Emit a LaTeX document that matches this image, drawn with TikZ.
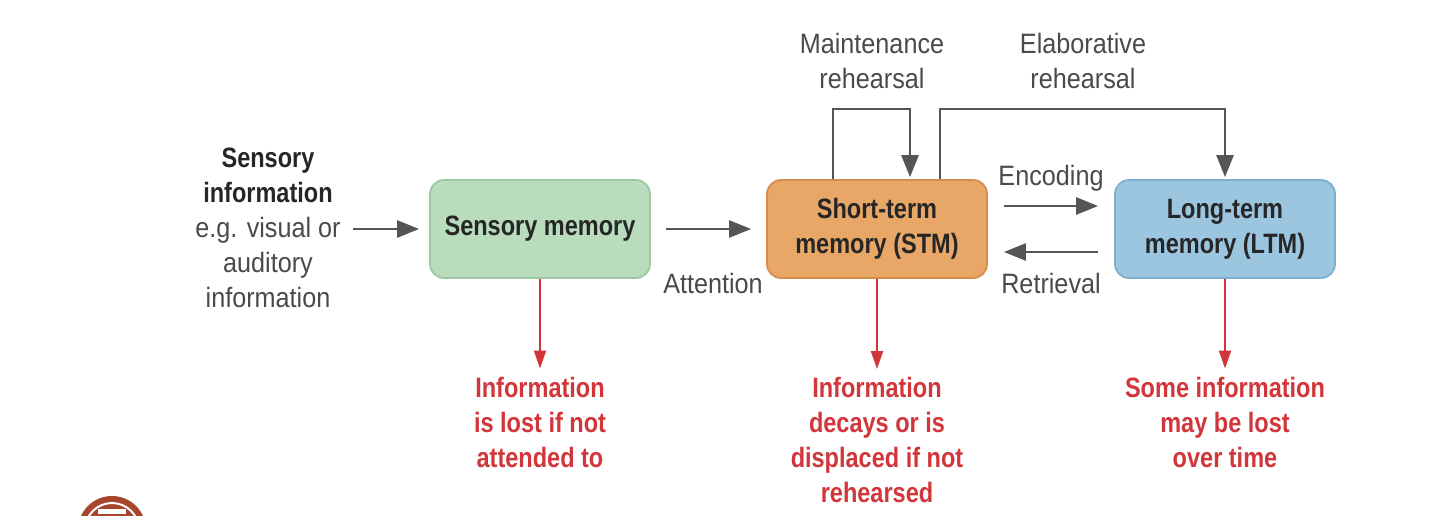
\documentclass[tikz,border=0pt]{standalone}
\usepackage{fontspec}
\setmainfont{Liberation Sans}[FakeStretch=0.9]
\newfontfamily\condf{Liberation Sans}[FakeStretch=0.84]
\usetikzlibrary{arrows.meta}
\definecolor{gfill}{HTML}{B9DCBD}
\definecolor{gdraw}{HTML}{9CC8A3}
\definecolor{ofill}{HTML}{E8A766}
\definecolor{odraw}{HTML}{D68E4C}
\definecolor{bfill}{HTML}{9CC5E0}
\definecolor{bdraw}{HTML}{7FAFD0}
\definecolor{txtgray}{HTML}{4A4A4A}
\definecolor{arrgray}{HTML}{555555}
\definecolor{lossred}{HTML}{D2353A}
\definecolor{logored}{HTML}{A8452D}
\begin{document}
\begin{tikzpicture}[x=1pt,y=-1pt,
  box/.style={rounded corners=14pt, minimum width=220pt, minimum height=98pt, line width=1.8pt,
    align=center, inner sep=0pt, text=black!85, font=\condf\bfseries\fontsize{28}{35}\selectfont},
  lbl/.style={align=center, inner sep=2pt, text=txtgray, font=\fontsize{28}{35}\selectfont},
  loss/.style={align=center, inner sep=2pt, text=lossred, font=\condf\bfseries\fontsize{28}{35}\selectfont},
  arr/.style={draw=arrgray, line width=2.6pt, -{Triangle[length=22pt,width=17pt]}},
  rarr/.style={draw=lossred, line width=2pt, -{Triangle[length=18pt,width=12pt]}}]
\useasboundingbox (0,0) rectangle (1440,515);
\fill[white] (0,0) rectangle (1440,515);
% logo (partially visible)
\begin{scope}
\clip (0,0) rectangle (1440,515);
\fill[logored] (112,530) circle (34);
\draw[white, line width=2pt] (112,530) circle (27);
\fill[white] (98,509) rectangle (126,514);
\end{scope}
% input
\node[lbl] (sinfo) at (268,228) {{\condf\bfseries\color{black!85}Sensory}\\{\condf\bfseries\color{black!85}information}\\e.g. visual or\\auditory\\information};
% boxes
\node[box, fill=gfill, draw=gdraw] (sm) at (540,229) {Sensory memory};
\node[box, fill=ofill, draw=odraw] (stm) at (877,229) {Short-term\\memory (STM)};
\node[box, fill=bfill, draw=bdraw] (ltm) at (1225,229) {Long-term\\memory (LTM)};
% horizontal arrows
\draw[arr] ([xshift=10pt]sinfo.east |- sm.west) -- ([xshift=-10pt]sm.west);
\draw[arr, shorten <=15pt, shorten >=15pt] (sm.east) -- (stm.west);
\node[lbl] (att) at (713,283) {Attention};
\draw[arr, shorten <=16pt, shorten >=16pt] ([yshift=23pt]stm.east) -- ([yshift=23pt]ltm.west);
\draw[arr, shorten <=16pt, shorten >=16pt] ([yshift=-23pt]ltm.west) -- ([yshift=-23pt]stm.east);
\node[lbl] (enc) at (1051,178) {Encoding};
\node[lbl] (ret) at (1051,283) {Retrieval};
% rehearsal loops
\draw[arr] ([xshift=-44pt]stm.north) -- ++(0,-70) -| ([xshift=33pt,yshift=2pt]stm.north);
\draw[arr] ([xshift=63pt]stm.north) -- ++(0,-70) -| ([yshift=2pt]ltm.north);
\node[lbl] (maint) at (872,61) {Maintenance\\rehearsal};
\node[lbl] (elab) at (1083,61) {Elaborative\\rehearsal};
% loss notes
\node[loss] (loss1) at (540,422) {Information\\is lost if not\\attended to};
\node[loss] (loss2) at (877,440) {Information\\decays or is\\displaced if not\\rehearsed};
\node[loss] (loss3) at (1225,422) {Some information\\may be lost\\over time};
\draw[rarr] (sm.south) -- ([yshift=6pt]sm.south |- loss1.north);
\draw[rarr] (stm.south) -- ([yshift=6pt]stm.south |- loss2.north);
\draw[rarr] (ltm.south) -- ([yshift=6pt]ltm.south |- loss3.north);
\end{tikzpicture}
\end{document}
